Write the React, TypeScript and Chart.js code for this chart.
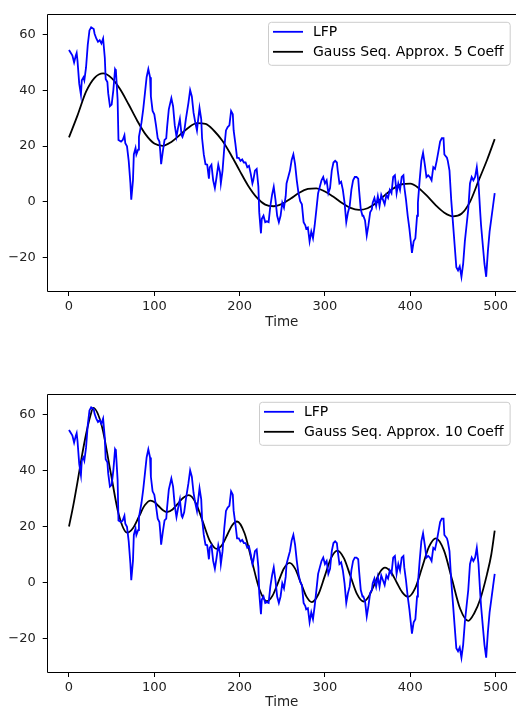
import React, { useEffect, useRef } from 'react';
import { Chart, registerables } from 'chart.js';

Chart.register(...registerables);

// ---------- data ----------
const lfpTime = [
  0, 2, 4, 6, 8, 9, 10, 12, 14, 15, 17, 18, 20, 22, 24, 26, 29, 30, 32, 34, 36, 38, 40, 42, 43, 45, 46, 48, 50,
  52, 54, 55, 57, 58, 61, 63, 65, 66, 68, 70, 72, 73, 75, 76, 78, 79, 81, 82, 85, 87, 89, 91, 93, 95, 96, 98,
  100, 102, 104, 106, 107, 108, 110, 112, 114, 115, 117, 120, 122, 124, 126, 128, 130, 132, 133, 135, 137, 140,
  142, 144, 146, 148, 150, 151, 153, 155, 156, 158, 160, 162, 164, 165, 167, 169, 171, 173, 175, 177, 178, 180,
  182, 184, 186, 188, 190, 192, 193, 195, 197, 199, 201, 203, 205, 207, 209, 211, 213, 215, 216, 218, 220, 222,
  223, 225, 226, 228, 230, 232, 234, 236, 238, 240, 242, 244, 246, 248, 250, 252, 254, 255, 257, 259, 261, 263,
  265, 267, 269, 271, 273, 275, 277, 278, 280, 282, 284, 286, 288, 290, 292, 294, 296, 298, 300, 302, 304, 306,
  308, 310, 312, 314, 315, 317, 319, 321, 323, 325, 327, 329, 331, 333, 335, 337, 339, 340, 342, 344, 345, 347,
  349, 351, 353, 355, 356, 358, 360, 362, 364, 366, 368, 370, 372, 374, 376, 378, 380, 382, 384, 386, 388, 390,
  392, 393, 395, 397, 399, 401, 402, 404, 406, 408, 409, 411, 413, 415, 417, 419, 421, 423, 425, 427, 429, 431,
  433, 435, 437, 439, 440, 443, 444, 446, 448, 450, 452, 454, 456, 458, 460, 462, 464, 466, 468, 470, 472, 474,
  476, 478, 480, 482, 483, 485, 487, 489, 491, 493, 495, 497, 499,
];
const lfpValue = [
  54.5, 53.5, 52.5, 50, 52.5, 53.4, 50.5, 42.4, 38.4, 43.6, 44.7, 43.6, 48.2, 56.3, 61.5, 62.6, 62, 60.3, 58.6,
  57.4, 58, 56.8, 58.6, 51.6, 44.1, 43, 38.9, 34.3, 34.9,
  40.1, 47.6, 47, 36.6, 22.2, 21.6, 22.2, 23.9, 21, 19.9, 14.7, 6.6, 0.8, 7.7, 17, 19.3, 17, 18.7, 23.3, 28.5,
  33.2, 38.9, 44.7, 47.6, 44.7, 37.8, 32.6,
  31.4, 27.4, 22.8, 21.6, 18.1, 13.5, 18.1, 22.2, 22.8, 26.8, 33.2, 37.2, 34.3, 27.4, 23.4, 26.8, 29.7, 23.9,
  23.3, 25.1, 29.7, 35.5,
  40.1, 37.8, 32, 28.5, 25.6, 28.5, 33.7, 29.7, 22.8, 17, 13.5, 13.3, 8.3, 12.4, 13.3, 7.7, 4.9, 8.9, 13.3,
  10.6, 6.6, 11.2,
  19.3, 25.6, 26.8, 27.4, 32.6, 31.4, 25.6, 21, 15.8, 15.8, 14.7, 15.2, 14.1, 14.1, 12.4, 12.9, 10.1, 6.6, 7.7,
  11.2, 11.8, 5.4,
  -3.8, -11.3, -6.1, -5, -7.3, -7, -7.3, -1.5, 2.5, 5.4, 0.8, -5, -7.3, -5, -0.3, -2.1, 2, 6.6, 8.9, 11.2, 15,
  17,
  13.5, 7.7, 3.1, 0.2, -0.9, -7.3, -8.4, -9.6, -9.2, -14.2, -10.7, -13.1, -8.4, -2.7, 3.1, 5.4, 7.7, 8.9, 6.6,
  7.7, 3.1, 4.9,
  11.2, 14.1, 14.7, 14.1, 11.2, 6.6, 7.2, 4.3, -0.3, -7.3, -3.8, -1.5, 4.3, 7.7, 8.9, 8.9, 8.3, 4.3, -2.7, -5,
  -5, -6.7,
  -12.1, -8.4, -3.8, -2.7, -0.3, 1.4, -1.5, 2, -1.5, 2.5, 0.8, -0.9, 2.5, 1.4, 4.3, 3.1, 8.9, 9.5, 3.1, 6.6,
  4.3, 8.9,
  9.5, 5.4, 0.8, -5, -9.6, -15.4, -18.3, -14.2, -13.1, -5, -0.3, 7.7, 14.7, 17.6, 13.5, 8.9, 9.5, 8.9, 7.7,
  12.4, 11.8, 14.7,
  18.1, 21.6, 22.8, 22.8, 17, 15.8, 14.7, 11.2, 0.8, -7.3, -15.4, -23.5, -24.6, -23.2, -26.9, -22.3, -14.2,
  -8.4, -2.7, 6.6, 8.9, 7.7,
  8.9, 12.4, 6.6, -3.8, -8.4, -15.4, -22.3, -26.9, -17.7, -10.7, -6.1, -1.5, 3.1,
];

const approx5Time = [
  0, 10, 20, 30, 40, 50, 60, 70, 80, 90, 100, 110, 120, 130, 140, 150, 160, 170, 180, 190, 200, 210, 220, 230,
  240, 250, 260, 270, 280, 290, 300, 310, 320, 330, 340, 350, 360, 370, 380, 390, 400, 410, 420, 430, 440, 450,
  460, 470, 480, 490, 499,
];
const approx5Value = [
  23.1, 31, 39.5, 44.5, 46.1, 44.4, 40.4, 34.9, 29.1, 24.1, 20.9, 20.1, 21.5, 24, 26.6, 28.2, 28, 25.5, 21.8,
  16.8, 11.2, 5.8, 1.6, -1.0, -1.6, -0.7, 1.2, 3.25, 4.6, 4.85, 3.7, 1.8, -0.4, -2.2, -2.9, -2.3, -0.4, 2.3,
  4.75, 6.3, 6.5, 4.9, 2, -1.25, -3.9, -5.2, -4.3, 0, 7.5, 15, 22.5,
];

const approx10Time = [
  0, 5, 10, 15, 20, 25, 28.5, 38.5, 48.4, 58.3, 68.3, 75.1, 82, 88.8, 95.6, 100.5, 105.3, 110.2, 115, 121.4,
  127.7, 134, 140.4, 148.7, 157, 165.2, 173.5, 179.4, 185.3, 191.1, 197, 205.8, 214.5, 223.3, 232, 238.6, 245.3,
  251.9, 258.5, 265, 271.6, 278.2, 284.7, 292.2, 299.7, 307.1, 314.6, 322.2, 329.9, 337.5, 345.1, 351.4, 357.8,
  364.1, 370.4, 377.2, 384, 390.9, 397.7, 405.8, 413.9, 421.9, 430, 439.5, 449, 458.5, 468, 475, 482, 490, 495,
  499,
];
const approx10Value = [
  20.0, 27.5, 36, 45, 53, 59.5, 62.4, 55.9, 40.1, 24.3, 17.8, 19.5, 23.55, 27.6, 29.3, 28.7, 27.25, 25.8, 25.2,
  26.1, 28.2, 30.3, 31.2, 28.4, 21.6, 14.8, 12.0, 13.4, 16.9, 20.4, 21.8, 17.6, 7.55, -2.5, -6.7, -4.7, 0.15,
  5.0, 7.0, 4.95, 0, -4.95, -7, -4.3, 2.2, 8.7, 11.4, 8.7, 2.3, -4.1, -6.8, -5.0, -0.75, 3.5, 5.3, 3.8, 0.1,
  -3.6, -5.1, -2.0, 5.35, 12.7, 15.8, 11.5, 1.05, -9.4, -13.7, -11, -6, 3, 10, 18.5,
];

const xTicks = [0, 100, 200, 300, 400, 500];
const yTicks = [-20, 0, 20, 40, 60];
const lfpLabel = 'LFP';
const approx5Label = 'Gauss Seq. Approx. 5 Coeff';
const approx10Label = 'Gauss Seq. Approx. 10 Coeff';
const xLabel = 'Time';

// ---------- plugins ----------
const framePlugin = {
  id: 'frame',
  afterDatasetsDraw(chart: any) {
    const { ctx, chartArea } = chart;
    const l = Math.floor(chartArea.left) + 0.5;
    const t = Math.floor(chartArea.top) + 0.5;
    const b = Math.floor(chartArea.bottom) + 0.5;
    ctx.save();
    ctx.strokeStyle = '#000';
    ctx.lineWidth = 1;
    ctx.beginPath();
    ctx.moveTo(chartArea.right + 2, t);
    ctx.lineTo(l, t);
    ctx.lineTo(l, b);
    ctx.lineTo(chartArea.right + 2, b);
    ctx.stroke();
    ctx.restore();
  },
};

const boxLegendPlugin = {
  id: 'boxLegend',
  afterDraw(chart: any) {
    const { ctx, chartArea } = chart;
    const ds = chart.data.datasets;
    ctx.save();
    ctx.font = '14px "DejaVu Sans"';
    const textW = Math.max(...ds.map((d: any) => ctx.measureText(d.label).width));
    const padL = 4.5;
    const handle = 30;
    const gap = 10;
    const padR = 6.5;
    const w = padL + handle + gap + textW + padR;
    const h = 43;
    const x = Math.round(chartArea.right - 6 - w) + 0.5;
    const y = chartArea.top + 7 + 0.5;
    ctx.beginPath();
    ctx.roundRect(x, y, w, h, 3);
    ctx.fillStyle = 'rgba(255,255,255,0.8)';
    ctx.fill();
    ctx.strokeStyle = '#cccccc';
    ctx.lineWidth = 1;
    ctx.stroke();
    ds.forEach((d: any, i: number) => {
      const cy = y + 9.5 + i * 20;
      ctx.beginPath();
      ctx.moveTo(x + padL, cy);
      ctx.lineTo(x + padL + handle, cy);
      ctx.strokeStyle = d.borderColor;
      ctx.lineWidth = d.borderWidth;
      ctx.stroke();
      ctx.fillStyle = '#000';
      ctx.textBaseline = 'middle';
      ctx.textAlign = 'left';
      ctx.fillText(d.label, x + padL + handle + gap, cy + 1);
    });
    ctx.restore();
  },
};

// ---------- panel ----------
type PanelProps = {
  top: number;
  height: number;
  axisHeight: number;
  titlePad: number;
  approxT: number[];
  approxV: number[];
  approxLabel: string;
};

function Panel({ top, height, axisHeight, titlePad, approxT, approxV, approxLabel }: PanelProps) {
  const ref = useRef<HTMLCanvasElement>(null);
  useEffect(() => {
    if (!ref.current) return;
    const tickFont = { family: '"DejaVu Sans"', size: 13 };
    const chart = new Chart(ref.current, {
      type: 'line',
      data: {
        datasets: [
          {
            label: lfpLabel,
            data: lfpTime.map((t, i) => ({ x: t, y: lfpValue[i] })),
            borderColor: '#0000ff',
            borderWidth: 1.8,
            pointRadius: 0,
            tension: 0,
            fill: false,
          },
          {
            label: approxLabel,
            data: approxT.map((t, i) => ({ x: t, y: approxV[i] })),
            borderColor: '#000000',
            borderWidth: 1.8,
            pointRadius: 0,
            cubicInterpolationMode: 'monotone',
            fill: false,
          },
        ],
      },
      options: {
        animation: false,
        responsive: false,
        devicePixelRatio: 1,
        events: [],
        layout: { padding: { top: 6, left: 0, right: 0, bottom: 0 } },
        plugins: { legend: { display: false }, tooltip: { enabled: false } },
        scales: {
          x: {
            type: 'linear',
            min: -24.95,
            max: 523.95,
            afterBuildTicks: (s: any) => {
              s.ticks = xTicks.map((v) => ({ value: v }));
            },
            afterFit: (s: any) => {
              s.height = axisHeight;
            },
            grid: { drawOnChartArea: false, drawTicks: true, tickLength: 5, color: '#000', lineWidth: 1 },
            border: { display: false },
            ticks: { padding: 3, color: '#222', font: tickFont, maxRotation: 0, autoSkip: false },
            title: {
              display: true,
              text: xLabel,
              color: '#222',
              font: { family: '"DejaVu Sans"', size: 13.5 },
              padding: { top: 0, bottom: titlePad },
            },
          },
          y: {
            type: 'linear',
            min: -32,
            max: 67.1,
            afterBuildTicks: (s: any) => {
              s.ticks = yTicks.map((v) => ({ value: v }));
            },
            afterFit: (s: any) => {
              s.width = 47.7;
            },
            grid: { drawOnChartArea: false, drawTicks: true, tickLength: 5, color: '#000', lineWidth: 1 },
            border: { display: false },
            ticks: {
              padding: 7,
              color: '#222',
              font: tickFont,
              callback: (v: any) => (v < 0 ? '\u2212' + Math.abs(v) : String(v)),
            },
          },
        },
      },
      plugins: [framePlugin, boxLegendPlugin],
    } as any);
    return () => chart.destroy();
  }, []);
  return (
    <canvas
      ref={ref}
      width={516}
      height={height}
      style={{ position: 'absolute', left: 0, top, width: 516, height, display: 'block' }}
    />
  );
}

export default function App() {
  return (
    <div
      style={{
        position: 'absolute',
        left: 0,
        top: 0,
        width: 516,
        height: 711,
        overflow: 'hidden',
        background: '#fff',
      }}
    >
      <Panel top={0} height={335} axisHeight={44} titlePad={4.7} approxT={approx5Time} approxV={approx5Value} approxLabel={approx5Label} />
      <Panel top={380} height={331} axisHeight={39} titlePad={0} approxT={approx10Time} approxV={approx10Value} approxLabel={approx10Label} />
    </div>
  );
}
